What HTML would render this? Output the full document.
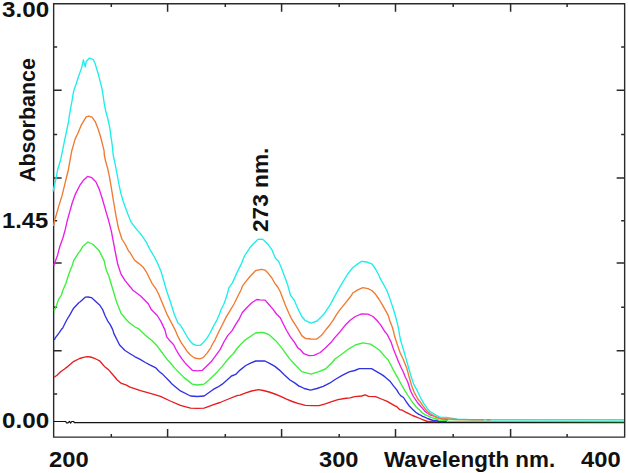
<!DOCTYPE html>
<html><head><meta charset="utf-8"><style>
html,body{margin:0;padding:0;background:#fff;width:628px;height:473px;overflow:hidden}
body{position:relative;font-family:"Liberation Sans",sans-serif;font-weight:bold;color:#111}
.t{position:absolute;white-space:nowrap;line-height:1;transform-origin:0 0}
</style></head><body>
<svg width="628" height="473" viewBox="0 0 628 473" style="position:absolute;left:0;top:0">
<path d="M53.65,3.7 H624.65 V437.1 H53.65 Z" stroke="#2a2a2a" stroke-width="1.4" fill="none"/>
<path d="M167.6,3.7 v8 M167.6,437.1 v-8 M281.6,3.7 v8 M281.6,437.1 v-8 M395.5,3.7 v8 M395.5,437.1 v-8 M510.6,3.7 v8 M510.6,437.1 v-8 M111.3,3.7 v3.2 M111.3,437.1 v-3.2 M225.3,3.7 v3.2 M225.3,437.1 v-3.2 M339.2,3.7 v3.2 M339.2,437.1 v-3.2 M453.2,3.7 v3.2 M453.2,437.1 v-3.2 M567.1,3.7 v3.2 M567.1,437.1 v-3.2 M53.65,90.2 h8 M624.65,90.2 h-8 M53.65,177.9 h8 M624.65,177.9 h-8 M53.65,263.1 h8 M624.65,263.1 h-8 M53.65,350.8 h8 M624.65,350.8 h-8 M53.65,46.9 h3.5 M624.65,46.9 h-3.5 M53.65,134.5 h3.5 M624.65,134.5 h-3.5 M53.65,220.7 h3.5 M624.65,220.7 h-3.5 M53.65,307.2 h3.5 M624.65,307.2 h-3.5 M53.65,393.9 h3.5 M624.65,393.9 h-3.5" stroke="#2a2a2a" stroke-width="1.5" fill="none"/>
<path d="M54.0,421.5 L65.8,421.5 L66.5,422.9 L68.0,422.9 L69.4,421.4 L70.7,423.0 L71.7,421.5 L73.7,421.5 L74.3,422.6 L624.0,422.6" stroke="#111111" stroke-width="1.2" fill="none" stroke-linejoin="round"/>
<path d="M54.2,377.2 L57.0,375.3 L60.6,371.8 L64.5,369.0 L68.2,366.1 L73.9,361.3 L79.6,358.5 L83.5,357.3 L87.2,356.6 L90.5,357.0 L93.9,358.1 L97.0,359.5 L100.0,361.2 L104.4,366.4 L108.9,370.1 L113.3,375.3 L117.0,379.7 L121.4,383.4 L125.9,384.9 L130.0,387.1 L140.5,390.6 L150.3,393.3 L160.5,396.3 L170.3,401.0 L180.4,405.3 L190.6,408.1 L197.4,408.3 L204.1,408.1 L214.3,404.4 L220.0,402.5 L228.5,399.0 L236.9,395.7 L240.0,395.1 L245.8,392.8 L251.6,391.0 L258.6,389.7 L263.3,390.5 L269.1,392.0 L274.9,394.0 L280.7,396.3 L286.5,399.2 L292.3,401.5 L299.3,403.8 L300.0,403.8 L305.3,405.4 L312.0,405.7 L319.0,405.6 L325.3,403.8 L331.7,401.7 L338.0,399.6 L344.4,398.5 L350.0,397.8 L354.7,396.6 L361.6,396.0 L365.1,394.9 L368.6,396.3 L375.6,396.6 L381.4,399.0 L387.2,401.3 L395.0,405.9 L396.6,406.5 L399.8,409.7 L401.9,410.0 L405.1,411.8 L408.3,413.4 L412.5,415.5 L416.7,417.1 L420.0,418.5 L423.2,419.8 L427.4,421.5 L438.0,421.5" stroke="#e61c1e" stroke-width="1.35" fill="none" stroke-linejoin="round"/>
<path d="M54.4,340.1 L55.1,338.2 L58.9,333.1 L61.8,328.9 L62.7,328.0 L66.7,320.0 L70.3,314.1 L72.8,309.5 L74.1,307.7 L78.8,302.7 L79.9,302.0 L85.5,297.1 L88.0,297.0 L91.4,297.6 L99.0,304.4 L100.0,305.5 L102.5,309.3 L105.1,315.7 L107.6,320.8 L110.2,324.6 L112.7,329.6 L113.8,333.4 L119.6,345.0 L125.0,350.5 L130.1,353.7 L135.1,356.8 L140.2,359.4 L145.3,362.5 L150.3,365.1 L155.4,367.6 L159.2,371.4 L163.0,374.6 L170.0,381.7 L172.0,384.1 L180.4,390.9 L190.6,396.0 L197.4,396.5 L204.1,396.0 L212.9,389.7 L217.5,387.2 L221.9,384.4 L226.5,380.5 L231.5,376.0 L235.7,374.4 L240.0,370.1 L245.8,365.5 L250.5,363.1 L255.7,361.0 L260.3,360.8 L265.0,361.0 L269.1,363.1 L274.9,366.4 L279.5,370.1 L284.2,374.8 L290.0,380.0 L294.7,382.9 L299.3,386.4 L300.0,386.4 L304.2,388.5 L310.6,390.1 L316.9,388.5 L323.2,386.4 L329.6,383.2 L335.9,379.0 L342.2,375.3 L348.6,372.1 L350.0,371.6 L354.7,370.5 L359.3,368.7 L365.0,368.6 L371.5,368.7 L376.7,371.6 L382.6,375.1 L385.0,376.9 L390.3,381.6 L393.5,385.9 L396.6,389.6 L398.8,393.3 L400.9,395.9 L403.5,397.5 L406.2,401.7 L409.3,406.0 L412.5,409.2 L415.7,412.3 L418.9,414.4 L420.0,414.8 L422.6,416.4 L425.3,417.4 L427.4,418.5 L430.6,419.5 L432.7,420.3 L438.0,420.3 L438.5,421.6 L447.0,421.6" stroke="#3232e1" stroke-width="1.35" fill="none" stroke-linejoin="round"/>
<path d="M54.0,310.5 L55.1,309.0 L57.0,303.9 L58.9,298.8 L61.4,295.0 L62.7,290.8 L65.9,283.2 L68.8,274.2 L72.2,265.4 L73.7,260.6 L75.4,257.8 L77.9,253.8 L79.9,251.4 L83.0,246.2 L88.0,242.0 L93.1,244.5 L99.0,250.4 L104.1,260.6 L106.3,270.0 L108.9,276.3 L110.8,282.7 L112.7,289.0 L114.6,295.4 L116.5,301.7 L119.0,308.1 L120.9,313.1 L124.1,317.0 L127.3,320.8 L130.0,323.3 L135.1,327.0 L138.9,328.9 L145.3,335.3 L151.6,340.3 L156.7,345.4 L160.5,350.5 L164.3,355.6 L168.1,360.6 L170.0,362.5 L175.4,368.9 L183.8,377.4 L192.3,384.1 L197.4,385.0 L204.1,384.1 L209.0,380.0 L216.7,372.6 L222.6,365.9 L227.7,359.5 L231.1,355.7 L233.2,354.0 L237.0,348.5 L240.4,344.7 L245.0,340.1 L255.5,333.0 L260.6,332.5 L263.1,332.5 L269.0,334.7 L275.8,340.7 L282.6,349.1 L289.3,358.4 L295.1,364.8 L301.8,371.6 L311.1,374.1 L318.8,371.6 L325.5,369.0 L332.3,362.3 L335.0,359.0 L341.3,354.5 L348.9,348.8 L355.3,345.0 L362.9,342.8 L370.5,344.1 L376.8,348.2 L380.0,350.7 L385.4,357.1 L388.0,359.8 L391.2,365.7 L393.3,369.9 L395.9,374.6 L398.6,379.4 L401.2,384.2 L404.8,390.7 L408.6,396.5 L412.4,402.2 L416.2,407.0 L420.0,410.6 L422.6,413.2 L425.3,414.8 L427.9,415.8 L430.6,417.2 L433.2,418.2 L435.8,418.5 L438.5,420.1 L446.4,420.3 L448.5,421.4 L624.0,421.5" stroke="#3cf03c" stroke-width="1.35" fill="none" stroke-linejoin="round"/>
<path d="M53.8,265.4 L55.7,260.3 L57.6,255.2 L59.5,247.6 L62.9,238.0 L65.2,229.7 L67.2,220.8 L69.7,211.9 L72.2,203.0 L75.4,194.1 L79.9,185.2 L83.4,180.3 L87.6,176.4 L91.8,177.7 L96.0,182.0 L99.4,189.6 L102.8,200.5 L106.2,212.4 L108.7,220.8 L111.3,230.9 L112.9,239.4 L115.1,251.0 L117.7,264.0 L121.0,274.1 L125.3,280.9 L129.5,286.0 L132.9,290.2 L135.0,291.8 L140.9,296.3 L148.3,303.7 L151.3,309.6 L157.2,315.5 L160.9,321.4 L165.0,330.1 L166.7,336.8 L170.1,341.1 L173.5,344.5 L176.0,349.5 L178.5,353.8 L181.9,358.8 L185.3,363.1 L187.0,365.0 L192.3,370.3 L197.4,370.8 L202.4,370.3 L210.9,362.1 L215.0,356.6 L217.5,353.2 L220.1,349.6 L223.9,342.0 L227.7,335.6 L232.1,330.6 L235.9,324.2 L239.1,319.2 L242.2,312.8 L246.7,307.7 L251.8,302.7 L256.8,299.5 L260.0,299.8 L265.1,300.1 L268.9,304.5 L272.7,308.9 L276.5,314.0 L280.3,317.8 L283.4,324.2 L286.6,330.5 L290.4,336.8 L294.2,341.9 L298.0,348.2 L300.0,349.3 L303.8,353.7 L308.9,355.6 L313.9,355.4 L320.3,352.5 L325.3,348.0 L331.7,341.7 L335.0,337.4 L340.1,331.7 L345.1,325.3 L350.2,320.3 L355.3,316.5 L361.6,313.9 L368.0,314.2 L373.0,316.5 L376.8,320.3 L380.0,324.1 L381.3,325.9 L384.5,331.2 L387.2,334.4 L389.1,338.2 L391.2,342.4 L393.3,348.7 L395.4,354.0 L398.0,360.4 L400.7,366.7 L403.3,372.0 L405.4,377.3 L407.6,381.5 L408.6,384.7 L410.5,390.7 L413.4,396.5 L417.2,402.2 L420.0,405.5 L422.1,407.9 L424.8,411.1 L427.4,413.2 L430.0,414.8 L433.2,415.8 L435.8,416.9 L439.5,418.2 L442.2,418.8 L448.0,419.5" stroke="#e81ee8" stroke-width="1.35" fill="none" stroke-linejoin="round"/>
<path d="M53.0,191.5 L55.7,180.2 L57.6,170.0 L60.8,159.2 L64.2,142.3 L68.5,122.0 L69.5,114.8 L70.8,107.2 L72.0,100.9 L73.0,94.5 L74.3,88.8 L75.8,85.0 L78.1,77.8 L81.2,68.9 L82.4,64.6 L83.4,59.8 L85.2,66.8 L86.3,61.5 L89.1,58.3 L89.7,58.0 L93.2,59.7 L95.0,63.1 L96.7,69.0 L98.5,74.8 L100.2,81.7 L102.0,88.7 L103.1,95.7 L104.3,103.8 L105.4,109.7 L107.9,119.0 L109.8,127.9 L111.0,136.8 L112.3,145.7 L113.2,155.0 L115.1,163.9 L117.0,174.0 L118.9,184.2 L120.8,193.1 L123.4,202.0 L126.6,210.8 L128.0,214.6 L129.8,219.1 L131.1,222.1 L136.2,228.9 L141.3,234.8 L146.3,242.2 L150.0,249.6 L154.4,257.0 L158.1,264.4 L161.1,271.8 L163.6,280.3 L166.5,290.5 L170.5,302.2 L174.2,314.0 L177.9,322.9 L180.2,325.0 L182.8,329.2 L185.3,333.5 L187.8,337.7 L190.4,341.5 L192.9,344.0 L196.3,345.3 L200.5,345.3 L203.9,341.9 L207.3,337.7 L209.8,333.5 L212.4,328.4 L214.1,325.0 L216.9,320.1 L219.6,313.7 L221.1,309.5 L223.8,304.2 L225.4,300.0 L227.8,292.2 L229.0,287.6 L232.4,282.9 L237.1,272.4 L241.7,263.1 L242.8,260.0 L243.8,257.4 L245.5,254.3 L249.9,247.8 L253.4,243.8 L257.8,239.4 L260.5,239.2 L263.0,239.4 L268.3,244.7 L271.8,249.6 L274.0,255.0 L275.6,258.5 L278.7,261.6 L281.4,268.0 L284.6,276.4 L287.7,284.9 L290.4,295.0 L294.2,300.1 L298.0,308.9 L301.8,316.5 L305.0,320.3 L311.1,323.1 L317.1,321.0 L323.8,314.3 L330.6,304.1 L335.0,295.6 L340.1,286.7 L343.9,280.3 L347.7,274.0 L352.7,267.7 L357.8,263.9 L361.6,261.3 L366.7,262.0 L371.8,263.9 L375.6,269.0 L379.4,276.5 L380.3,278.7 L386.6,290.0 L388.7,295.3 L390.9,301.6 L393.0,308.0 L394.6,313.3 L396.1,318.5 L397.7,324.9 L398.8,330.2 L399.6,335.2 L400.6,340.3 L402.5,346.6 L404.4,353.0 L406.5,360.4 L408.6,367.8 L410.7,375.2 L412.8,381.5 L413.9,384.7 L417.2,390.7 L421.3,399.2 L424.2,404.2 L426.9,407.9 L429.5,411.1 L432.7,413.2 L435.8,415.1 L439.5,416.9 L442.2,417.3 L446.4,417.3 L450.0,418.0 L457.3,419.2 L470.0,419.7 L624.0,419.7" stroke="#1eeeea" stroke-width="1.35" fill="none" stroke-linejoin="round"/>
<path d="M53.5,226.0 L54.4,220.8 L56.4,214.5 L58.9,205.6 L62.1,195.4 L65.2,182.7 L66.8,176.0 L68.4,170.0 L69.3,164.2 L71.8,150.7 L75.2,138.9 L77.7,133.8 L81.1,125.4 L86.2,116.9 L88.7,116.1 L92.0,117.1 L95.2,121.6 L97.7,127.9 L100.2,135.5 L102.2,143.1 L104.1,150.8 L104.3,155.0 L105.6,161.3 L107.5,167.7 L109.4,176.6 L110.7,184.2 L112.0,191.8 L113.2,199.4 L114.5,207.0 L115.8,214.6 L118.4,228.0 L121.9,239.0 L125.3,244.5 L128.7,251.3 L130.0,252.5 L134.4,260.0 L138.9,263.6 L143.3,267.3 L146.3,271.8 L149.2,277.7 L152.2,283.6 L155.9,288.8 L158.5,293.8 L162.7,304.0 L166.9,314.1 L172.6,325.0 L175.2,330.1 L177.7,336.0 L180.7,341.9 L183.6,346.2 L187.0,351.2 L190.4,355.0 L194.6,358.0 L199.7,358.8 L203.1,357.6 L207.3,352.9 L210.7,347.8 L213.2,342.8 L215.0,339.8 L218.8,331.8 L222.6,324.2 L226.4,316.6 L230.2,310.3 L234.0,304.0 L237.8,296.3 L241.0,290.0 L242.3,286.4 L245.2,282.3 L249.9,276.5 L255.5,270.7 L261.4,269.3 L265.0,270.1 L268.2,273.3 L271.9,278.0 L274.5,282.8 L277.7,287.0 L280.3,291.8 L281.5,295.0 L285.3,305.1 L289.2,314.0 L291.7,319.1 L294.9,324.2 L298.0,329.2 L301.8,335.6 L305.0,338.1 L306.3,338.5 L311.0,339.0 L316.5,339.2 L321.5,335.3 L326.2,329.3 L330.0,324.7 L333.0,320.4 L336.0,315.4 L338.9,311.1 L342.3,306.9 L345.7,302.7 L349.0,298.5 L351.6,295.1 L352.7,293.0 L357.8,289.9 L362.9,287.7 L368.0,288.6 L371.8,290.5 L375.6,294.3 L379.2,299.5 L382.4,304.8 L385.6,310.6 L388.2,315.4 L389.8,320.7 L391.9,325.9 L393.5,331.2 L394.3,335.0 L395.9,340.3 L398.0,346.6 L400.2,353.0 L402.8,358.3 L404.9,363.5 L407.0,368.8 L408.6,375.2 L410.2,380.5 L411.3,384.7 L414.3,392.6 L418.1,399.3 L420.5,402.1 L422.6,405.3 L425.3,409.0 L427.9,411.9 L430.6,413.7 L433.7,415.8 L436.9,417.4 L440.1,418.8 L443.8,418.8 L447.5,419.0 L457.0,419.5 L484.0,419.7 M486.5,419.7 L490.5,419.7" stroke="#f07a30" stroke-width="1.35" fill="none" stroke-linejoin="round"/>
</svg>
<div class="t" style="left:2px;top:-1px;font-size:22px;transform:scale(1.10,1)">3.00</div>
<div class="t" style="left:2px;top:210px;font-size:22px;transform:scale(1.08,1)">1.45</div>
<div class="t" style="left:2px;top:410px;font-size:22px;transform:scale(1.10,1)">0.00</div>
<div class="t" style="left:49px;top:448px;font-size:22px;transform:scale(1.08,1.04)">200</div>
<div class="t" style="left:319px;top:448px;font-size:22px;transform:scale(1.075,1.04)">300</div>
<div class="t" style="left:384px;top:447.5px;font-size:22px;transform:scale(1.02,1.03)">Wavelength nm.</div>
<div class="t" style="left:580.5px;top:448px;font-size:22px;transform:scale(1.08,1.04)">400</div>
<div class="t" style="left:17px;top:182px;font-size:22px;transform:rotate(-90deg) scale(0.975,1)">Absorbance</div>
<div class="t" style="left:250px;top:231.5px;font-size:22px;transform:rotate(-90deg) scale(1.03,1)">273 nm.</div>

</body></html>
